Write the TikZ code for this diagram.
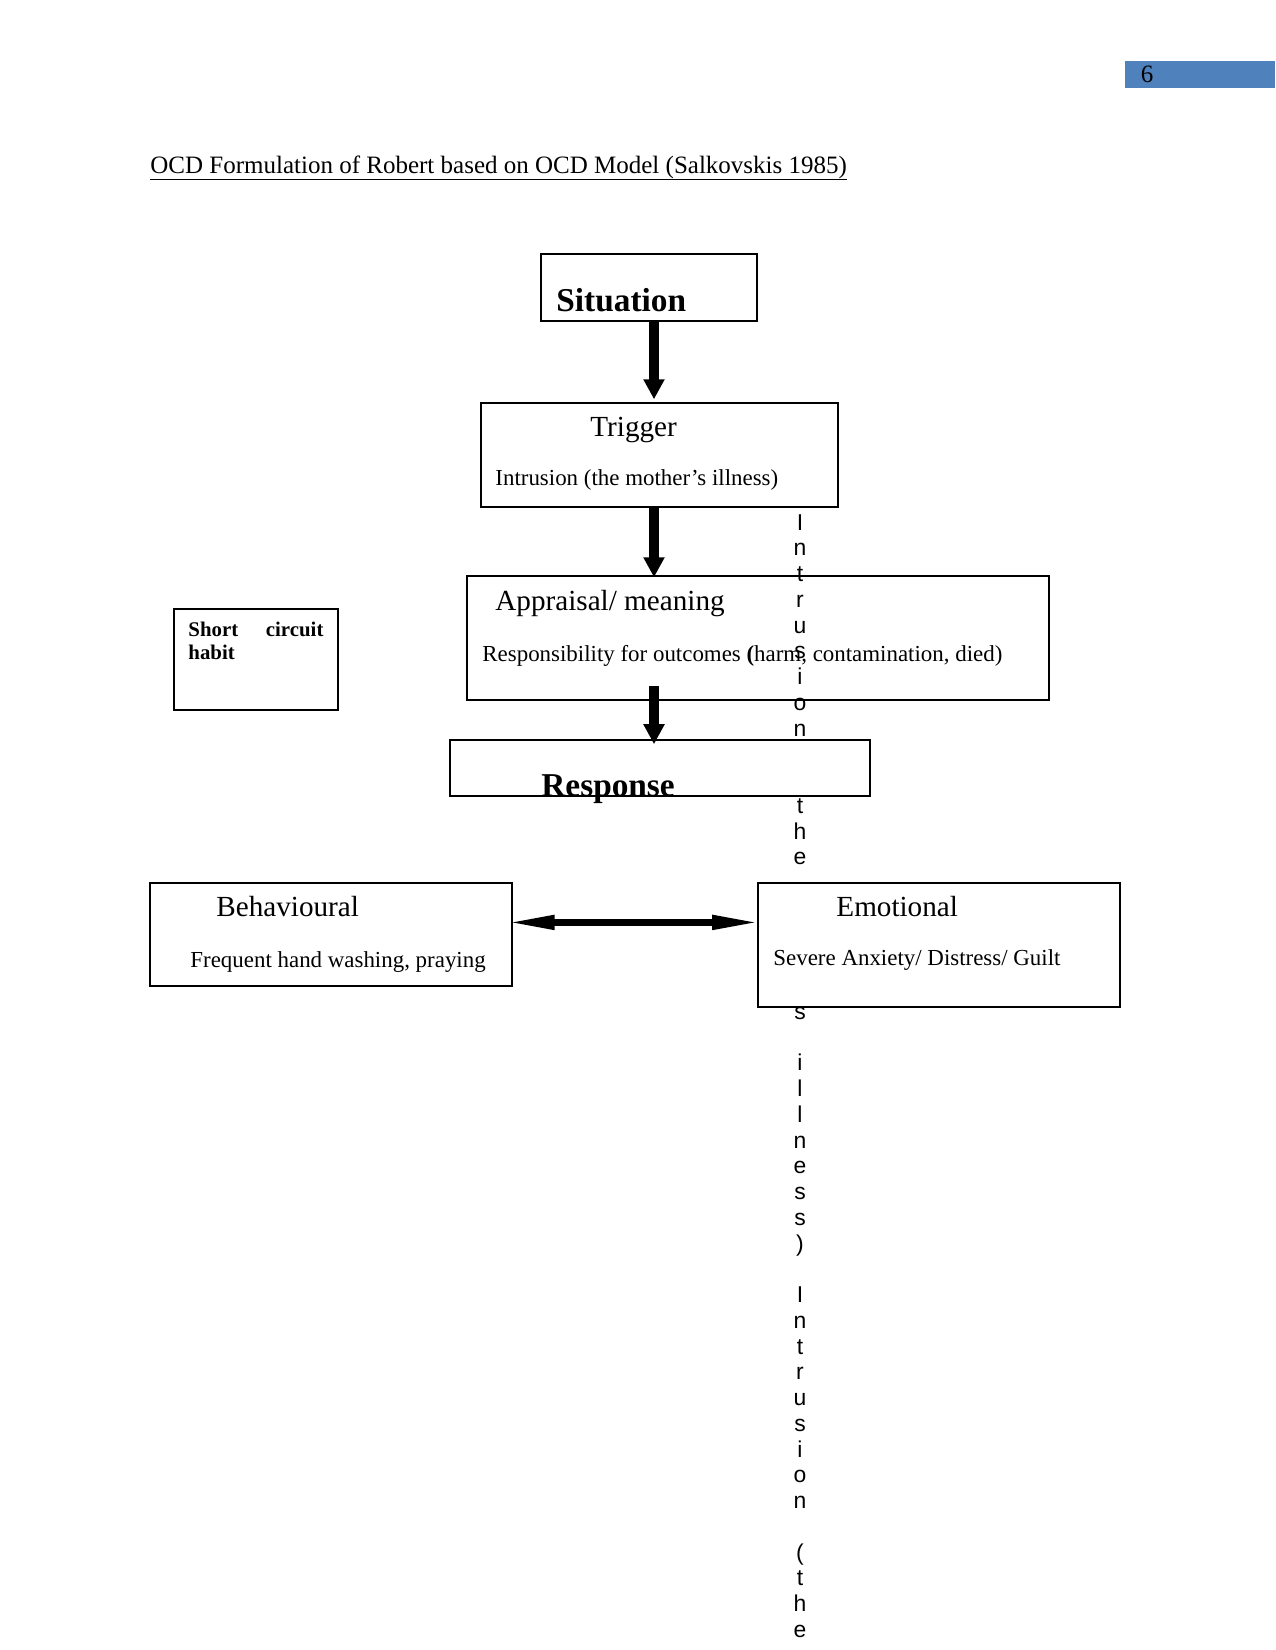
\documentclass[tikz,border=0pt]{standalone}
\usepackage{fontspec}
\setmainfont{Liberation Serif}
\newfontfamily\vsans{Liberation Sans}
\usetikzlibrary{arrows.meta,fit}
\definecolor{pageblue}{RGB}{79,129,189}
\begin{document}
\begin{tikzpicture}[x=0.48pt,y=-0.48pt,
  box/.style={draw, line width=0.75pt, fill=white, inner sep=0pt},
  txt/.style={anchor=base west, inner sep=0pt},
  vl/.style={anchor=base, inner sep=0pt, font=\vsans\fontsize{11}{13}\selectfont},
  varrow/.style={line width=4.8pt, -{Triangle[length=9.6pt,width=9.6pt]}},
  darrow/.style={line width=3.2pt, {Triangle[length=23pt,width=6.4pt]}-{Triangle[length=23pt,width=6.4pt]}},
  big/.style={font=\fontsize{16}{19}\selectfont\bfseries},
  head/.style={font=\fontsize{14}{17}\selectfont},
  body/.style={font=\fontsize{11}{13}\selectfont}
]
\useasboundingbox (0,0) rectangle (1275,1650);

% page number
\node[fill=pageblue, inner sep=0pt, fit={(1125,61) (1275,88)}] (pg) {};
\node[anchor=base, inner sep=0pt, font=\fontsize{12}{14}\selectfont] (pgn) at (1147,83) {6};

% title
\node[txt, font=\fontsize{12}{14}\selectfont] (title) at (150,174)
  {OCD Formulation of Robert based on OCD Model (Salkovskis 1985)};
\draw[line width=0.5pt] ([yshift=-2.6pt]title.base west) -- ([yshift=-2.6pt]title.base east);

% axis coordinate for vertical arrows
\coordinate (ax) at (654,0);

% Situation
\node[box, line width=0.9pt, fit={(541,254) (757,321)}] (sit) {};
\node[txt, big] (sitT) at (556,312) {Situation};

% Trigger
\node[box, fit={(481,403) (838,507)}] (trig) {};
\node[txt, head] (trigT) at (590,437) {Trigger};
\node[txt, body] (trigB) at (495,486) {Intrusion (the mother’s illness)};

% Appraisal
\node[box, fit={(467,576) (1049,700)}] (appr) {};
\node[txt, head] (apprT) at (495,610) {Appraisal/ meaning};
\node[txt, body] (apprB) at (482,661) {Responsibility for outcomes \textbf{(}harm, contamination, died)};

% Short circuit habit
\node[box, fit={(174,609) (338,710)}] (sch) {};
\node[txt, font=\fontsize{10}{12}\selectfont\bfseries] (schA) at (188,636) {\makebox[64.8pt][s]{Short circuit}};
\node[txt, font=\fontsize{10}{12}\selectfont\bfseries] (schB) at (188,659) {habit};

% vertical letters
\foreach \i/\c in {0/I,1/n,2/t,3/r,4/u,5/s,6/i,7/o,8/n,11/t,12/h,13/e,19/s,21/i,22/l,23/l,24/n,25/e,26/s,27/s,28/{)},30/I,31/n,32/t,33/r,34/u,35/s,36/i,37/o,38/n,40/{(},41/t,42/h,43/e}
  \node[vl] (v\i) at (800,{530+\i*25.75}) {\c};

% Response
\node[box, fit={(450,740) (870,796)}] (resp) {};
\node[txt, big] (respT) at (541,796) {Response};

% Behavioural
\node[box, fit={(150,883) (512,986)}] (beh) {};
\node[txt, head] (behT) at (216,916) {Behavioural};
\node[txt, body] (behB) at (190,967) {Frequent hand washing, praying};

% Emotional
\node[box, fit={(758,883) (1120,1007)}] (emo) {};
\node[txt, head] (emoT) at (836,916) {Emotional};
\node[txt, body] (emoB) at (773,965) {Severe Anxiety/ Distress/ Guilt};

% arrows
\draw[varrow, shorten >=1.4pt] (sit.south -| ax) -- (trig.north -| ax);
\draw[varrow, shorten >=-1pt] (trig.south -| ax) -- (appr.north -| ax);
\draw[varrow, shorten >=-2.4pt] ([yshift=7.2pt]appr.south -| ax) -- (resp.north -| ax);
\draw[darrow, shorten <=-2.9pt, shorten >=-1.4pt] ([yshift=5.8pt]beh.east) -- ([yshift=5.8pt]beh.east -| emo.west);
\end{tikzpicture}
\end{document}
